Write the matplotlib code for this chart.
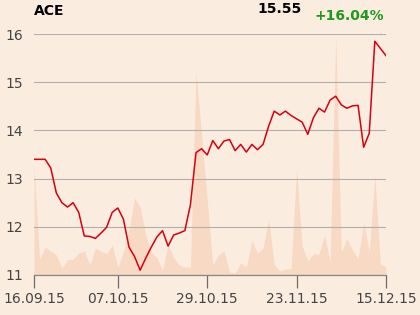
import matplotlib
matplotlib.use("Agg")
import matplotlib.pyplot as plt

# closing prices, one per trading day (16.09.15 .. 15.12.15)
prices = [13.40, 13.40, 13.40, 13.22, 12.70, 12.50, 12.41, 12.50, 12.30, 11.81,
          11.80, 11.76, 11.87, 11.99, 12.30, 12.39, 12.16, 11.58, 11.38, 11.10,
          11.35, 11.58, 11.79, 11.92, 11.60, 11.83, 11.87, 11.92, 12.46, 13.54,
          13.62, 13.49, 13.79, 13.62, 13.78, 13.81, 13.58, 13.71, 13.55, 13.71,
          13.60, 13.71, 14.09, 14.40, 14.32, 14.40, 14.31, 14.24, 14.17, 13.92,
          14.26, 14.46, 14.38, 14.63, 14.71, 14.53, 14.46, 14.51, 14.52, 13.65,
          13.94, 15.85, 15.70, 15.55]

# traded volume (relative units)
volume = [110, 16, 28, 24, 20, 7, 15, 16, 22, 24,
          10, 27, 24, 21, 30, 8, 23, 45, 77, 68,
          40, 23, 17, 5, 31, 17, 10, 8, 8, 203,
          140, 75, 10, 20, 24, 3, 2, 12, 8, 34,
          22, 27, 56, 10, 4, 6, 6, 106, 29, 14,
          21, 21, 40, 13, 240, 23, 36, 25, 16, 52,
          23, 100, 11, 8]

tick_pos = [0, 15, 31, 47, 63]
tick_labels = ["16.09.15", "07.10.15", "29.10.15", "23.11.15", "15.12.15"]
y_ticks = [11, 12, 13, 14, 15, 16]

bg = "#fbece0"
x = list(range(len(prices)))

fig = plt.figure(figsize=(4.2, 3.15), dpi=100, facecolor=bg)
ax = fig.add_axes([34 / 420, 1 - 275 / 315, 352 / 420, 241 / 315])
ax.set_facecolor(bg)

# volume on its own hidden scale behind the price line
vax = ax.twinx()
vax.fill_between(x, 0, volume, color="#f8d9c3", linewidth=0)
vax.set_ylim(0, 241)
vax.set_yticks([])
for s in vax.spines.values():
    s.set_visible(False)
ax.set_zorder(vax.get_zorder() + 1)
ax.patch.set_visible(False)
vax.patch.set_facecolor(bg)

ax.plot(x, prices, color="#d7000f", linewidth=1.1, zorder=3)

ax.set_xlim(0, 63)
ax.set_ylim(11, 16)
ax.set_yticks(y_ticks)
ax.set_yticklabels([str(t) for t in y_ticks])
ax.set_xticks(tick_pos)
ax.set_xticklabels(tick_labels)
ax.grid(axis="y", color="#b4aeaa", linewidth=0.8)
ax.set_axisbelow(True)

for side in ["left", "top", "right"]:
    ax.spines[side].set_visible(False)
ax.spines["bottom"].set_color("#8a8684")
ax.spines["bottom"].set_linewidth(0.9)

ax.tick_params(axis="x", length=9.5, width=0.9, color="#6f6b69",
               labelsize=10, labelcolor="#444444", pad=3)
ax.tick_params(axis="y", length=0, labelsize=10, labelcolor="#444444", pad=8)

fig.text(34 / 420, 1 - 11 / 315, "ACE", fontsize=10, fontweight="bold",
         ha="left", va="center", color="black")
fig.text(302 / 420, 1 - 9 / 315, "15.55", fontsize=10, fontweight="bold",
         ha="right", va="center", color="black")
fig.text(384 / 420, 1 - 16 / 315, "+16.04%", fontsize=10, fontweight="bold",
         ha="right", va="center", color="#1e9a1e")

fig.savefig("out.png", dpi=100, facecolor=bg)
